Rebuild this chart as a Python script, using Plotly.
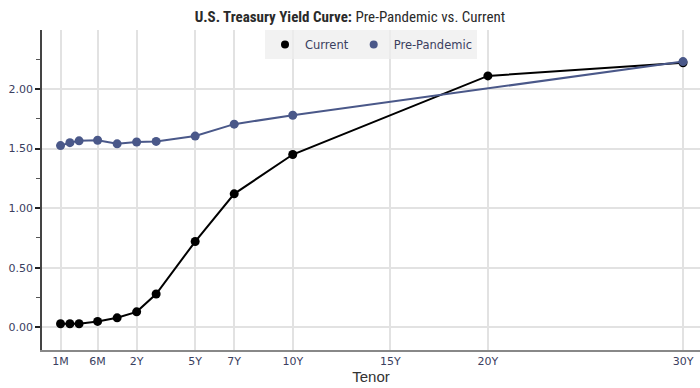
import plotly.graph_objects as go

# Tenor positions (chart's x scale) and labels
tenor_labels = ["1M", "2M", "3M", "6M", "1Y", "2Y", "3Y", "5Y", "7Y", "10Y", "20Y", "30Y"]
tenor_pos = [-1.9, -1.42, -0.95, 0, 1, 2, 3, 5, 7, 10, 20, 30]

current_yield = [0.03, 0.03, 0.03, 0.05, 0.08, 0.13, 0.28, 0.72, 1.12, 1.45, 2.11, 2.22]

pre_labels = ["1M", "2M", "3M", "6M", "1Y", "2Y", "3Y", "5Y", "7Y", "10Y", "30Y"]
pre_pos = [-1.9, -1.42, -0.95, 0, 1, 2, 3, 5, 7, 10, 30]
pre_yield = [1.525, 1.55, 1.565, 1.57, 1.54, 1.555, 1.56, 1.605, 1.705, 1.78, 2.23]

tick_labels = ["1M", "6M", "2Y", "5Y", "7Y", "10Y", "15Y", "20Y", "30Y"]
tick_pos = [-1.9, 0, 2, 5, 7, 10, 15, 20, 30]

series_names = ["Current", "Pre-Pandemic"]

BLACK = "#000000"
BLUE = "#4a5889"

fig = go.Figure()
fig.add_trace(go.Scatter(
    x=tenor_pos, y=current_yield, name=series_names[0], mode="lines+markers",
    text=tenor_labels, showlegend=False,
    line=dict(color=BLACK, width=2), marker=dict(color=BLACK, size=9),
))
fig.add_trace(go.Scatter(
    x=pre_pos, y=pre_yield, name=series_names[1], mode="lines+markers",
    text=pre_labels, showlegend=False,
    line=dict(color=BLUE, width=2), marker=dict(color=BLUE, size=9),
))
# legend entries (marker only, as in the reference)
for nm, col in zip(series_names, [BLACK, BLUE]):
    fig.add_trace(go.Scatter(
        x=[None], y=[None], name=nm, mode="markers",
        marker=dict(color=col, size=8), showlegend=True,
    ))

fig.update_layout(
    width=700, height=388,
    margin=dict(l=42, r=0, t=30, b=38),
    paper_bgcolor="white", plot_bgcolor="white",
    title=dict(
        text="<b>U.S. Treasury Yield Curve:</b> Pre-Pandemic vs. Current",
        x=0.5, xanchor="center", y=0.958, yanchor="middle",
        font=dict(family="Roboto Condensed, DejaVu Sans Condensed, sans-serif", size=15, color="#2a2a2a"),
    ),
    legend=dict(
        orientation="h", x=0.5, xanchor="center", y=1.0, yanchor="top",
        bgcolor="rgba(238,238,238,0.75)",
        font=dict(family="DejaVu Sans, sans-serif", size=11.5, color="#3a4060"),
        itemwidth=30,
    ),
    showlegend=True,
)

fig.update_xaxes(
    range=[-2.85, 30.87],
    tickvals=tick_pos, ticktext=tick_labels,
    showgrid=True, gridcolor="#e2e2e2", gridwidth=1.5,
    showline=True, linecolor="#888888", linewidth=2,
    ticks="", zeroline=False,
    tickfont=dict(family="DejaVu Sans, sans-serif", size=11, color="#3a4060"),
    title=dict(text="Tenor", font=dict(family="Liberation Sans, Arial, sans-serif", size=15, color="#333333"), standoff=4),
)
fig.update_yaxes(
    range=[-0.19, 2.495],
    tickvals=[0, 0.5, 1.0, 1.5, 2.0], tickformat=".2f",
    showgrid=True, gridcolor="#e2e2e2", gridwidth=1.5,
    showline=True, linecolor="#444444", linewidth=1.5,
    ticks="outside", ticklen=5, tickwidth=2, tickcolor="#222222",
    minor=dict(tickvals=[0.25, 0.75, 1.25, 1.75, 2.25, 2.5], ticks="outside", ticklen=4, tickwidth=1, tickcolor="#555555", showgrid=False),
    zeroline=False,
    tickfont=dict(family="DejaVu Sans, sans-serif", size=11, color="#3a4060"),
)

fig.write_html("out.html", post_script="document.body.style.margin='0';", config={"displayModeBar": False})
